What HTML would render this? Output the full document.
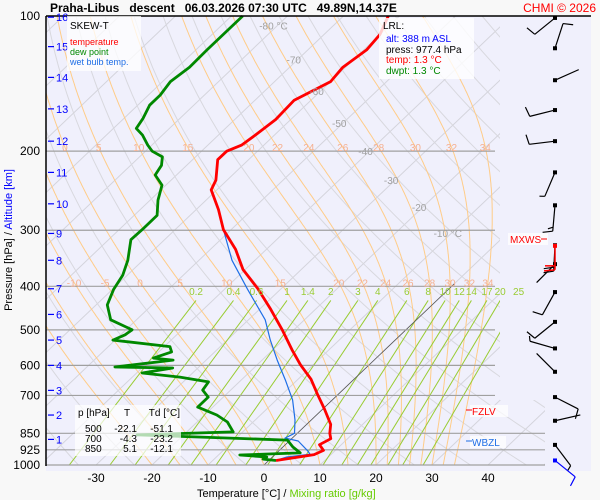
<!DOCTYPE html>
<html><head><meta charset="utf-8"><style>
body{margin:0;background:#f8f8f8;}
svg{display:block;font-family:"Liberation Sans",sans-serif;}
</style></head><body>
<svg id="c" width="600" height="500" viewBox="0 0 600 500">
<rect x="0" y="0" width="600" height="500" fill="#f8f8f8"/>
<rect x="46" y="16" width="545" height="455" fill="#f0f0fc"/>
<defs><clipPath id="cp"><path d="M46,16 H500 V400 H545 V465 H46 Z"/></clipPath></defs>
<g id="bg" clip-path="url(#cp)"></g>
<g id="series"></g>
<g id="over"></g>
<text x="50" y="12" font-size="12" font-weight="bold" fill="#000" xml:space="preserve">Praha-Libus   descent   06.03.2026 07:30 UTC   49.89N,14.37E</text>
<text x="596" y="12" font-size="12" text-anchor="end" fill="#ff0000">CHMI © 2026</text>
<text transform="translate(12,240) rotate(-90)" font-size="11" text-anchor="middle"><tspan fill="#000">Pressure [hPa]  /  </tspan><tspan fill="#0000ff">Altitude [km]</tspan></text>
<text x="197" y="497" font-size="11" fill="#000">Temperature [°C]  /  <tspan fill="#66cc00">Mixing ratio [g/kg]</tspan></text>
</svg>
<script>
const NS="http://www.w3.org/2000/svg";
const tempP=[100,110,119,130,140,154,170,184,194,200,209,232,244,270,299,331,367,406,450,500,554,598,644,696,752,812,850,874,901,928,948,958,977];
const tempT=[-62,-60,-59.5,-60.5,-60,-63,-62.7,-63.4,-64,-65.5,-65.5,-62,-61,-56,-51.4,-45.5,-40.4,-34,-28,-22.1,-16.6,-12.3,-7.7,-3.7,0.4,4.3,5.8,7,6.1,7.9,7,5.1,1.3];
const dewP=[100,119,130,140,150,158,169,178,184,194,200,206,215,226,238,257,278,299,315,350,378,406,440,475,500,513,527,545,560,578,584,605,608,624,637,653,681,706,743,774,802,844,857,880,912,940,950,960,970,977];
const dewT=[-88,-88,-87.9,-88.6,-87.9,-87.9,-86.6,-85.9,-83.6,-80.7,-78.8,-75.9,-74.5,-73.8,-70.7,-68.6,-65.9,-65.9,-66,-62.7,-60.8,-59.8,-58,-54.6,-48.9,-49.2,-50.4,-39,-37.7,-39.8,-35.9,-45,-34.5,-39,-31.5,-25.5,-25,-22.7,-22.7,-17.8,-14.6,-11.7,-28.3,-0.5,1.8,4.2,-6.2,-1,-1.3,1.3];
const wbP=[299,350,406,475,527,584,647,716,794,850,871,884,928,946,960,977];
const wbT=[-51.4,-44.1,-35.9,-27,-22.3,-17.3,-12.1,-7.1,-2.9,-0.5,-1.3,1.6,5,6.2,2.6,1.3];
const windP=[101,118,139,162,190,223,264,324,357,412,480,550,620,706,797,902,977];
const windDir=[231,18,66,256,263,203,185,183,225,209,231,286,315,117,77,143,129];
const windSpd=[10,10,3,10,10,5,15,20,3,10,10,5,3,10,3,5,10];
const pLevels=[200,300,400,500,600,700,850,925,1000];
const pLabels=["200","300","400","500","600","700","850","925","1000"];
const xTicks=[-30,-20,-10,0,10,20,30,40];
const kmVals=[16,15,14,13,12,11,10,9,8,7,6,5,4,3,2,1];
const kmP=[100.6,117,137,161,190,223,262,305,350,405,462,527,600,682,774,877];
const isoLabT=[-80,-70,-60,-50,-40,-30,-20,-10];
const isoLabP=[105,125,147,173,200,232,266,304];
const mixW=[0.2,0.4,0.6,1,1.4,2,3,4,6,8,10,12,14,17,20,25];
const mixLab=["0.2","0.4","0.6","1","1.4","2","3","4","6","8","10","12","14","17","20","25"];
const moistTw=[-20,-15,-10,-5,0,5,10,15,20,22,24,26,28,30,32,34];
const moistLabHi=[0,5,10,15,20,22,24,26,28,30,32,34];
const moistLabLo=[-10,-5,0,5,10,15,20,22,24,26,28,30,32,34];

function yP(p){return 16+(Math.log10(p)-2)*449;}
function xT(T,p){return 264+5.6*T+1.05*(465-yP(p));}
function mk(tag,attrs,parent){const e=document.createElementNS(NS,tag);for(const k in attrs)e.setAttribute(k,attrs[k]);parent.appendChild(e);return e;}
const bg=document.getElementById('bg'),ser=document.getElementById('series'),ov=document.getElementById('over'),svg=document.getElementById('c');

// isotherms
for(let T=-150;T<=50;T+=10){
  const l=mk('line',{x1:xT(T,1050),y1:yP(1050),x2:xT(T,100),y2:yP(100),stroke:'#d4d4dc','stroke-width':1},bg);
  
  
}
// dry adiabats
for(let th=190;th<=500;th+=10){
  let d='';
  for(let p=1050;p>=100;p-=10){const T=th*Math.pow(p/1000,0.2857)-273.15;d+=(d?'L':'M')+xT(T,p).toFixed(1)+','+yP(p).toFixed(1);}
  const e=mk('path',{d:d,fill:'none',stroke:'#d8d8de','stroke-width':1},bg);
  
  
}
// moist adiabats
function es(Tk){return 6.112*Math.exp(17.67*(Tk-273.15)/(Tk-29.65));}
const moistPts={};
for(const tw of moistTw){
  let T=tw+273.15,pts=[];
  for(let p=1000;p>=100;p-=2){
    pts.push([p,T-273.15]);
    const e=es(T),rs=0.622*e/(p-e);
    const g=(287*T+2.5e6*rs)/(p*(1005+2.5e6*2.5e6*rs*0.622/(287*T*T)));
    T-=g*2;
  }
  moistPts[tw]=pts;
  let d='';for(const [p,t] of pts)d+=(d?'L':'M')+xT(t,p).toFixed(1)+','+yP(p).toFixed(1);
  const e=mk('path',{d:d,fill:'none',stroke:'#ffcc88','stroke-width':1},bg);
  
  
}
function moistAt(tw,p){const pts=moistPts[tw];let best=pts[0];for(const q of pts)if(Math.abs(q[0]-p)<Math.abs(best[0]-p))best=q;return best[1];}
// mixing ratio lines
function tdW(w,p){const e=w*p/(622+w);const l=Math.log(e/6.112);return 243.5*l/(17.67-l);}
mixW.forEach((w,i)=>{
  const e=mk('line',{x1:xT(tdW(w,1050),1050),y1:yP(1050),x2:xT(tdW(w,430),430),y2:yP(430),stroke:'#99cc33','stroke-width':1},bg);
  
  
  const t=mk('text',{x:xT(tdW(w,430),430),y:yP(418),'font-size':10,fill:'#99cc33','text-anchor':'middle'},ov);
  t.textContent=mixLab[i];
  
  
});
// 0 isotherm dark
{const e=mk('line',{x1:xT(0,1000),y1:yP(1000),x2:xT(0,395),y2:yP(395),stroke:'#555','stroke-width':0.8},bg);

}
// moist labels
moistLabHi.forEach(tw=>{const t=mk('text',{x:xT(moistAt(tw,196),196),y:yP(196)+4,'font-size':10,fill:'#f5b090','text-anchor':'middle'},ov);t.textContent=tw;

});
moistLabLo.forEach(tw=>{const t=mk('text',{x:xT(moistAt(tw,392),392),y:yP(392)+4,'font-size':10,fill:'#f5b090','text-anchor':'middle'},ov);t.textContent=tw;

});
// isotherm labels
isoLabT.forEach((T,i)=>{const t=mk('text',{x:xT(T,isoLabP[i])-4,y:yP(isoLabP[i])+4,'font-size':10,fill:'#a0a0a0','text-anchor':'middle'},ov);t.textContent=T+((T===-80||T===-10)?' °C':'');

});
// pressure lines and labels
pLevels.forEach((p,i)=>{
  const xe=p>=850?545:495;
  const l=mk('line',{x1:46,y1:yP(p),x2:xe,y2:yP(p),stroke:'#a0a0a0','stroke-width':1.2},bg.parentNode.insertBefore(document.createElementNS(NS,'g'),ser));
  
  
  const t=mk('text',{x:40,y:yP(p)+4,'font-size':12,'text-anchor':'end',fill:'#000'},svg);
  t.textContent=pLabels[i];
  
  
});
{const t=mk('text',{x:40,y:yP(100)+4,'font-size':12,'text-anchor':'end',fill:'#000'},svg);t.textContent='100';

}
// borders
{const a=mk('line',{x1:46,y1:16,x2:591,y2:16,stroke:'#000','stroke-width':1.5},svg);
const b=mk('line',{x1:46,y1:16,x2:46,y2:466,stroke:'#000','stroke-width':1.5},svg);}
// x ticks
xTicks.forEach(T=>{const t=mk('text',{x:xT(T,1000),y:482,'font-size':12,'text-anchor':'middle',fill:'#000'},svg);t.textContent=T;

});
// km ticks
kmVals.forEach((k,i)=>{const y=yP(kmP[i]);
  const l=mk('line',{x1:48,y1:y,x2:54,y2:y,stroke:'#0000ff','stroke-width':1.2},svg);
  
  
  const t=mk('text',{x:56,y:y+4,'font-size':11,fill:'#0000ff'},svg);t.textContent=k;
  
  });
// series
function curve(P,T,color,w,name){let d='';P.forEach((p,i)=>{d+=(d?'L':'M')+xT(T[i],p).toFixed(1)+','+yP(p).toFixed(1);});
  const e=mk('path',{d:d,fill:'none',stroke:color,'stroke-width':w,'stroke-linejoin':'round'},ser);
  
  }
curve(wbP,wbT,'#1e6ee6',1.2,'wet-bulb-line');
curve(dewP,dewT,'#008800',2.8,'dewpoint-line');
curve(tempP,tempT,'#ff0000',2.8,'temperature-line');
// wind barbs
windP.forEach((p,i)=>{
  const y=yP(p),x=555,col=i===windP.length-1?'#0000ff':'#000';
  const a=windDir[i]*Math.PI/180,ux=Math.sin(a),uy=-Math.cos(a);
  const ex=x+ux*26,ey=y+uy*26;
  const g=mk('g',{stroke:col,'stroke-width':1.2,fill:'none'},ov);
  
  
  mk('line',{x1:x,y1:y,x2:ex,y2:ey},g);
  let s=windSpd[i],k=0;
  const px=-uy,py=ux;
  while(s>=5){const len=s>=10?10:5;const bx=ex-ux*k*4,by=ey-uy*k*4;
    mk('line',{x1:bx,y1:by,x2:bx+px*len+ux*2,y2:by+py*len+uy*2},g);s-=len;k++;}
  mk('rect',{x:x-2,y:y-2,width:4,height:4,fill:col,stroke:'none'},g);
});
// MXWS red barb
{const y=yP(325),g=mk('g',{stroke:'#ff0000','stroke-width':1.5},ov);


mk('line',{x1:555,y1:y,x2:555,y2:y+24},g);mk('line',{x1:555,y1:y+24,x2:544,y2:y+25},g);mk('line',{x1:555,y1:y+20,x2:545,y2:y+20},g);
mk('rect',{x:553,y:y-2,width:4,height:4,fill:'#ff0000',stroke:'none'},g);}
</script>
<svg width="600" height="500" style="position:absolute;left:0;top:0;font-family:'Liberation Sans',sans-serif">
<g>
<rect x="67" y="16" width="74" height="55" fill="#fff" fill-opacity="0.75"/>
<text x="70" y="29" font-size="10" fill="#000">SKEW-T</text>
<text x="70" y="45" font-size="9" fill="#ff0000">temperature</text>
<text x="70" y="55" font-size="9" fill="#008800">dew point</text>
<text x="70" y="65" font-size="9" fill="#1e6ee6">wet bulb temp.</text>
</g>
<g>
<rect x="379" y="18" width="95" height="61" fill="#fff" fill-opacity="0.8"/>
<text x="383" y="29" font-size="10" fill="#000">LRL:</text>
<text x="386" y="42" font-size="10" fill="#0000ff">alt: 388 m ASL</text>
<text x="386" y="53" font-size="10" fill="#000">press: 977.4 hPa</text>
<text x="386" y="63" font-size="10" fill="#ff0000">temp: 1.3 °C</text>
<text x="386" y="74" font-size="10" fill="#008800">dwpt: 1.3 °C</text>
</g>
<g font-size="10" fill="#000">
<rect x="75" y="405" width="106" height="51" fill="#fff" fill-opacity="0.7"/>
<text x="78" y="416">p [hPa]</text><text x="127" y="416" text-anchor="middle">T</text><text x="180" y="416" text-anchor="end">Td [°C]</text>
<text x="85" y="432">500</text><text x="137" y="432" text-anchor="end">-22.1</text><text x="173" y="432" text-anchor="end">-51.1</text>
<text x="85" y="442">700</text><text x="137" y="442" text-anchor="end">-4.3</text><text x="173" y="442" text-anchor="end">-23.2</text>
<text x="85" y="452">850</text><text x="137" y="452" text-anchor="end">5.1</text><text x="173" y="452" text-anchor="end">-12.1</text>
</g>
<g>
<rect x="508" y="233" width="40" height="12" fill="#fff" fill-opacity="0.7"/>
<text x="510" y="243" font-size="10" fill="#ff0000">MXWS</text>
<line x1="541" y1="239" x2="547" y2="239" stroke="#ff0000"/>
</g>
<g>
<rect x="470" y="405" width="38" height="12" fill="#fff" fill-opacity="0.7"/>
<line x1="466" y1="410" x2="472" y2="410" stroke="#ff0000"/>
<text x="472" y="415" font-size="10" fill="#ff0000">FZLV</text>
</g>
<g>
<rect x="470" y="436" width="36" height="12" fill="#fff" fill-opacity="0.7"/>
<line x1="466" y1="441" x2="472" y2="441" stroke="#1e6ee6"/>
<text x="472" y="446" font-size="10" fill="#1e6ee6">WBZL</text>
</g>
</svg>
</body></html>
